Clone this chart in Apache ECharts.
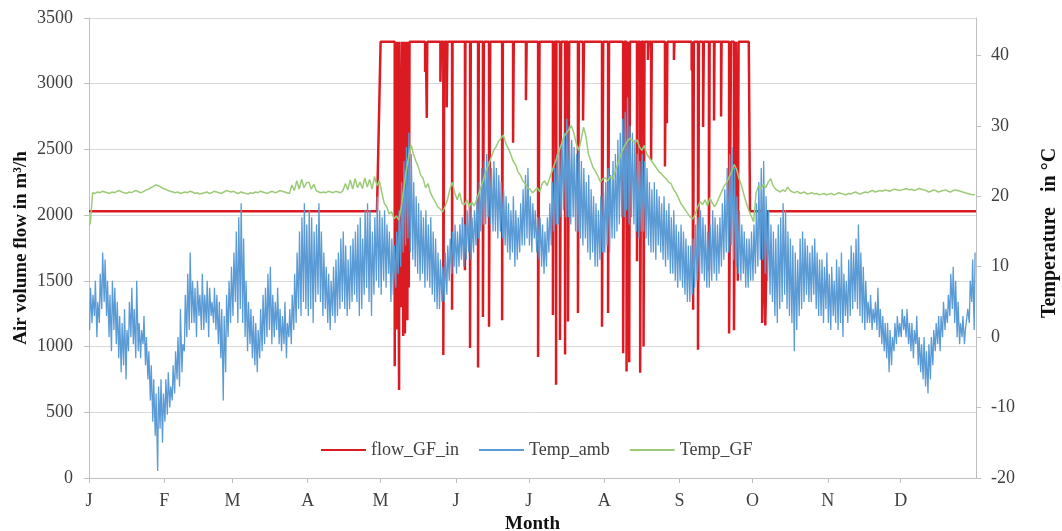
<!DOCTYPE html>
<html>
<head>
<meta charset="utf-8">
<script src="https://cdn.jsdelivr.net/npm/echarts@6/dist/echarts.min.js"></script>
<style>html,body{margin:0;padding:0;background:#fff}#c{width:1062px;height:531px}</style>
</head>
<body>
<div id="c"></div>
<script>
// Month tick positions (day of year) and labels
const monthStarts = [0,31,59,90,120,151,181,212,243,273,304,334];
const monthLabels = ['J','F','M','A','M','J','J','A','S','O','N','D'];
const flowTicks = [0,500,1000,1500,2000,2500,3000,3500];
const tempTicks = [-20,-10,0,10,20,30,40];

// Temp_amb: daily low and high (°C), day 0..364
const ambLow = [
1,2,3,0,2,4,5,3,0,-2,1,-1,-3,-5,-4,-6,-2,0,-1,-3,-2,-3,-1,-4,-6,-9,-12,-14,-19,-13,-15,
-12,-11,-10,-9,-8,-6,-7,-5,-2,0,1,2,2,0,3,1,1,2,0,3,2,1,-1,-3,-9,-5,0,2,
3,5,2,4,2,0,-2,-1,-3,-4,-5,-3,-2,-1,0,1,-1,0,1,-1,-2,-1,-3,0,-1,1,2,4,3,5,4,
3,4,2,5,6,5,3,4,2,1,3,2,3,4,5,4,3,4,5,6,5,3,4,6,7,5,3,6,8,7,
6,8,7,9,5,6,7,9,10,12,13,14,12,11,10,9,8,9,7,8,7,6,5,4,4,5,5,6,8,9,10,
9,10,11,10,11,12,11,12,13,14,15,16,16,17,16,15,15,14,15,14,13,12,11,12,10,11,12,13,13,14,
13,12,14,12,11,10,9,10,12,13,15,16,16,17,18,17,17,16,17,15,15,14,13,14,12,11,12,10,10,11,12,
12,13,12,14,14,15,16,17,17,18,16,17,16,15,14,15,15,14,13,12,12,11,13,12,11,10,11,9,9,8,7,
8,7,6,5,5,6,7,8,8,9,8,7,7,8,9,8,9,10,11,12,12,13,11,10,9,8,9,7,7,8,
8,9,10,11,11,9,8,6,5,3,2,4,5,6,4,3,2,-2,1,3,4,5,6,5,5,6,4,3,3,2,4,
2,1,3,2,1,2,0,3,2,3,4,5,4,3,2,1,2,2,1,2,1,0,-1,-2,-3,-5,-4,-2,-1,0,
0,1,0,-1,-2,-3,-1,-4,-5,-6,-7,-8,-6,-4,-2,-1,-2,0,1,2,3,4,2,0,-1,0,-1,1,2,5,1
];
const ambHigh = [
7,6,8,5,9,12,11,8,6,8,7,5,3,2,4,1,5,7,4,8,2,1,3,0,-2,-4,-6,-8,-7,-6,-8,
-6,-5,-7,-4,-2,0,4,-1,6,9,12,8,7,8,6,9,6,8,7,5,7,6,5,4,3,6,8,10,
12,15,17,19,14,8,5,4,3,2,1,4,6,7,9,10,6,5,7,4,3,5,2,4,6,9,12,15,17,19,16,
18,17,15,16,19,15,12,10,9,8,10,11,12,14,15,13,11,13,14,15,16,17,14,18,19,18,15,17,20,18,
17,18,16,15,14,13,15,18,22,25,27,29,26,22,20,19,18,17,18,16,17,15,14,12,11,10,12,13,14,15,16,
15,16,17,16,18,19,17,18,20,22,24,25,26,25,24,25,24,23,22,21,20,19,18,20,18,17,19,21,23,24,
20,19,18,17,17,16,15,17,19,22,24,26,27,28,29,31,30,28,27,26,27,25,24,22,23,21,20,19,18,20,22,
22,24,23,25,26,28,29,31,32,34,30,29,28,26,25,26,25,24,22,21,22,21,20,19,20,18,19,17,18,16,15,
16,15,14,13,13,14,16,17,18,17,16,15,16,18,17,16,17,19,21,24,26,27,24,20,18,16,15,14,14,15,
16,19,22,24,25,20,18,16,15,14,16,17,19,18,15,14,13,12,11,14,15,14,13,12,13,14,12,11,11,10,12,
9,10,8,11,10,12,9,8,11,13,12,14,16,12,10,8,5,6,4,5,7,4,3,2,2,1,0,2,3,2,
4,3,4,2,2,1,3,0,-1,0,-2,-1,0,1,2,3,3,5,4,6,9,10,8,5,2,3,1,4,8,11,12
];

// Temp_GF: daily value (°C), day 0..364
const gfDaily = [
16,20.5,20.4,20.6,20.5,20.7,20.6,20.5,20.4,20.6,20.5,20.7,20.8,20.6,20.5,20.4,20.6,20.5,20.7,20.8,20.6,20.5,20.7,20.9,21.0,21.2,21.4,21.6,21.5,21.3,21.1,
21.0,20.8,20.7,20.6,20.5,20.6,20.4,20.5,20.6,20.5,20.7,20.6,20.4,20.5,20.3,20.4,20.5,20.6,20.4,20.5,20.7,20.6,20.5,20.4,20.6,20.8,20.7,20.6,
20.7,20.5,20.4,20.6,20.5,20.4,20.3,20.5,20.4,20.6,20.5,20.7,20.6,20.5,20.4,20.6,20.7,20.5,20.6,20.8,20.7,20.6,20.5,20.4,21.6,20.8,22.2,21.0,22.4,21.2,21.9,
22.0,21.0,21.7,20.8,20.6,20.5,20.6,20.5,20.7,20.6,20.5,20.7,20.6,20.5,20.8,21.8,20.9,22.3,21.0,22.5,21.2,22.0,21.1,22.6,21.3,22.4,21.0,22.8,21.5,22.2,
20.5,19.0,18.5,17.5,17.8,16.8,17.2,16.6,18.5,21.0,23.5,25.5,27.3,26.0,25.0,24.2,23.0,22.5,21.2,21.8,20.5,19.8,19.2,18.5,18.2,17.8,18.5,19.5,21.0,22.0,20.5,
19.5,20.5,19.0,18.8,19.5,18.5,19.2,18.6,19.5,20.5,21.5,22.5,23.8,24.5,25.5,26.5,27.0,27.8,28.2,28.7,27.5,26.8,26.0,25.0,24.5,23.5,23.0,22.2,21.8,21.2,
21.0,20.5,20.8,21.2,20.6,21.8,22.2,21.5,22.5,23.5,24.5,25.5,26.5,27.5,28.5,29.0,29.5,30.0,29.0,27.5,26.5,28.0,29.8,28.5,26.0,25.0,24.0,23.5,22.8,22.0,22.5,
22.6,22.2,22.8,22.4,23.5,24.5,25.5,26.5,27.2,27.8,28.2,28.0,27.5,28.0,27.0,26.5,27.2,26.0,25.5,25.0,24.5,24.0,23.5,23.2,22.8,22.5,22.0,21.8,21.0,20.5,19.8,
19.0,18.5,18.0,17.5,17.0,16.8,17.5,18.5,19.2,18.8,19.5,18.6,19.8,19.0,18.5,19.2,20.0,20.8,21.5,22.0,22.8,23.5,24.5,23.8,22.5,21.5,20.2,19.0,18.0,17.2,
16.4,20.5,21.5,21.0,21.7,21.2,22.0,22.5,21.5,21.0,20.8,20.6,20.9,20.7,21.3,20.8,20.6,20.5,20.7,20.4,20.5,20.6,20.3,20.4,20.5,20.3,20.4,20.2,20.3,20.4,20.2,
20.3,20.4,20.2,20.3,20.5,20.4,20.3,20.2,20.4,20.3,20.5,20.6,20.4,20.3,20.5,20.6,20.5,20.7,20.8,20.6,20.7,20.8,20.7,20.9,20.8,20.7,20.9,21.0,20.9,20.8,
20.9,21.0,21.1,20.9,21.0,20.8,20.9,21.1,21.0,20.9,20.8,20.6,20.7,20.9,20.8,20.6,20.7,20.8,20.9,20.7,20.6,20.8,20.9,20.8,20.7,20.6,20.5,20.4,20.3,20.2,20.2
];

// flow_GF_in: base levels [day, m³/h] and reductions [day, value, duration in days]
const flowBase = [[0,2030],[118.5,2030],[120,3320],[271.5,3320],[272,2030],[365,2030]];
const flowDrops = [
[125.8,850,0.2],[126.6,1130,0.4],[127.6,670,0.15],[128.4,1300,0.5],[129.3,1080,0.3],[130.0,1100,0.4],[131.0,1200,0.3],[131.6,1450,0.3],
[138.3,3090,0.3],[139.0,2740,0.2],
[144.6,3015,0.3],[145.8,936,0.4],[147.2,2820,0.3],
[149.4,1280,0.2],
[154.7,1580,0.2],[156.8,990,0.3],
[160.1,840,0.3],[162.1,1225,0.4],[164.6,1150,0.5],[170.0,1200,0.3],
[174.5,2550,0.3],[179.8,2875,0.3],
[184.8,920,0.6],
[190.9,1240,0.4],[192.2,710,0.15],[193.8,1050,0.5],[195.9,940,0.2],[197.1,1190,0.5],
[201.2,1255,0.4],[203.3,2720,0.4],
[211.1,1150,0.5],[213.6,1255,0.4],
[219.8,950,0.5],[221.2,810,0.4],[222.3,880,0.3],
[225.5,1650,0.3],[226.8,800,0.5],[228.2,1000,0.4],
[230.0,3180,0.3],[231.3,2420,0.3],
[237.0,2370,0.4],[237.8,2700,0.2],
[240.7,3180,0.2],
[248.0,3100,0.3],[248.6,1280,0.3],[250.6,975,0.4],
[252.7,2670,0.3],[255.1,1580,0.3],[257.2,2720,0.2],[260.1,2750,0.2],
[263.4,1100,0.8],[265.4,1125,0.8],[267.0,1500,0.3],
[277.0,1180,0.6],[278.3,1160,0.8]
];

// ---- build series data from the arrays ----
function baseAt(d){
  for (let i = 1; i < flowBase.length; i++) {
    if (d <= flowBase[i][0]) {
      const a = flowBase[i-1], b = flowBase[i];
      const t = (d - a[0]) / (b[0] - a[0] || 1);
      return a[1] + (b[1] - a[1]) * t;
    }
  }
  return flowBase[flowBase.length-1][1];
}
const flowPts = [];
const events = flowBase.map(p => ({d: p[0], pts: [[p[0], p[1]]]}));
flowDrops.forEach(([d, v, w]) => {
  const b1 = baseAt(d), b2 = baseAt(d + w);
  events.push({d: d, pts: [[d, b1], [d, v], [d + w, v], [d + w, b2]]});
});
events.sort((a, b) => a.d - b.d);
events.forEach(e => e.pts.forEach(p => flowPts.push(p)));

const ambPts = [];
for (let i = 0; i < ambLow.length; i++) {
  ambPts.push([i + 0.25, ambLow[i]]);
  ambPts.push([i + 0.62, ambHigh[i]]);
}
const gfPts = gfDaily.map((v, i) => [i + 0.5, v]);

const serif = 'Liberation Serif, Times New Roman, serif';
const chart = echarts.init(document.getElementById('c'), null, {renderer: 'canvas'});
chart.setOption({
  animation: false,
  backgroundColor: '#ffffff',
  grid: {left: 89, right: 86, top: 18, bottom: 53, containLabel: false, outerBoundsMode: 'none'},
  legend: {
    data: ['flow_GF_in', 'Temp_amb', 'Temp_GF'],
    left: 316, top: 436,
    icon: 'rect', itemWidth: 45, itemHeight: 2, itemGap: 20,
    textStyle: {fontFamily: serif, fontSize: 18, color: '#404040'}
  },
  xAxis: {
    type: 'value', min: 0, max: 365,
    name: 'Month', nameLocation: 'middle', nameGap: 35,
    nameTextStyle: {fontFamily: serif, fontSize: 19, fontWeight: 'bold', color: '#111'},
    axisLine: {show: true, lineStyle: {color: '#bfbfbf'}},
    axisTick: {show: true, customValues: monthStarts, length: 5, lineStyle: {color: '#bfbfbf'}},
    axisLabel: {customValues: monthStarts, margin: 14, fontFamily: serif, fontSize: 18, color: '#404040',
      formatter: v => monthLabels[monthStarts.indexOf(Math.round(v))] || ''},
    splitLine: {show: false}
  },
  yAxis: [{
    type: 'value', min: 0, max: 3500, interval: 500,
    name: 'Air volume flow in m³/h', nameLocation: 'middle', nameGap: 58, nameMoveOverlap: false,
    nameTextStyle: {fontFamily: serif, fontSize: 19, fontWeight: 'bold', color: '#111'},
    axisLine: {show: true, lineStyle: {color: '#bfbfbf'}},
    axisTick: {show: true, length: 5, lineStyle: {color: '#bfbfbf'}},
    axisLabel: {margin: 16, fontFamily: serif, fontSize: 18, color: '#404040', formatter: v => String(v)},
    splitLine: {show: true, lineStyle: {color: '#d9d9d9'}}
  }, {
    type: 'value', min: -20, max: 45.3,
    name: '      Temperature   in °C', nameLocation: 'middle', nameGap: 64, nameRotate: 90,
    nameTextStyle: {fontFamily: serif, fontSize: 20, fontWeight: 'bold', color: '#111'},
    axisLine: {show: true, lineStyle: {color: '#bfbfbf'}},
    axisTick: {show: true, customValues: tempTicks, length: 5, lineStyle: {color: '#bfbfbf'}},
    axisLabel: {customValues: tempTicks, margin: 15, fontFamily: serif, fontSize: 18, color: '#404040', formatter: v => String(v)},
    splitLine: {show: false}
  }],
  series: [{
    name: 'flow_GF_in', type: 'line', yAxisIndex: 0, data: flowPts,
    showSymbol: false, symbol: 'none', lineStyle: {width: 2.5, color: '#dc1a22'}, itemStyle: {color: '#dc1a22'}
  }, {
    name: 'Temp_amb', type: 'line', yAxisIndex: 1, data: ambPts,
    showSymbol: false, symbol: 'none', lineStyle: {width: 1.3, color: '#5b9bd5'}, itemStyle: {color: '#5b9bd5'}
  }, {
    name: 'Temp_GF', type: 'line', yAxisIndex: 1, data: gfPts,
    showSymbol: false, symbol: 'none', lineStyle: {width: 1.5, color: '#9ccb78'}, itemStyle: {color: '#9ccb78'}
  }]
});
</script>
</body>
</html>
